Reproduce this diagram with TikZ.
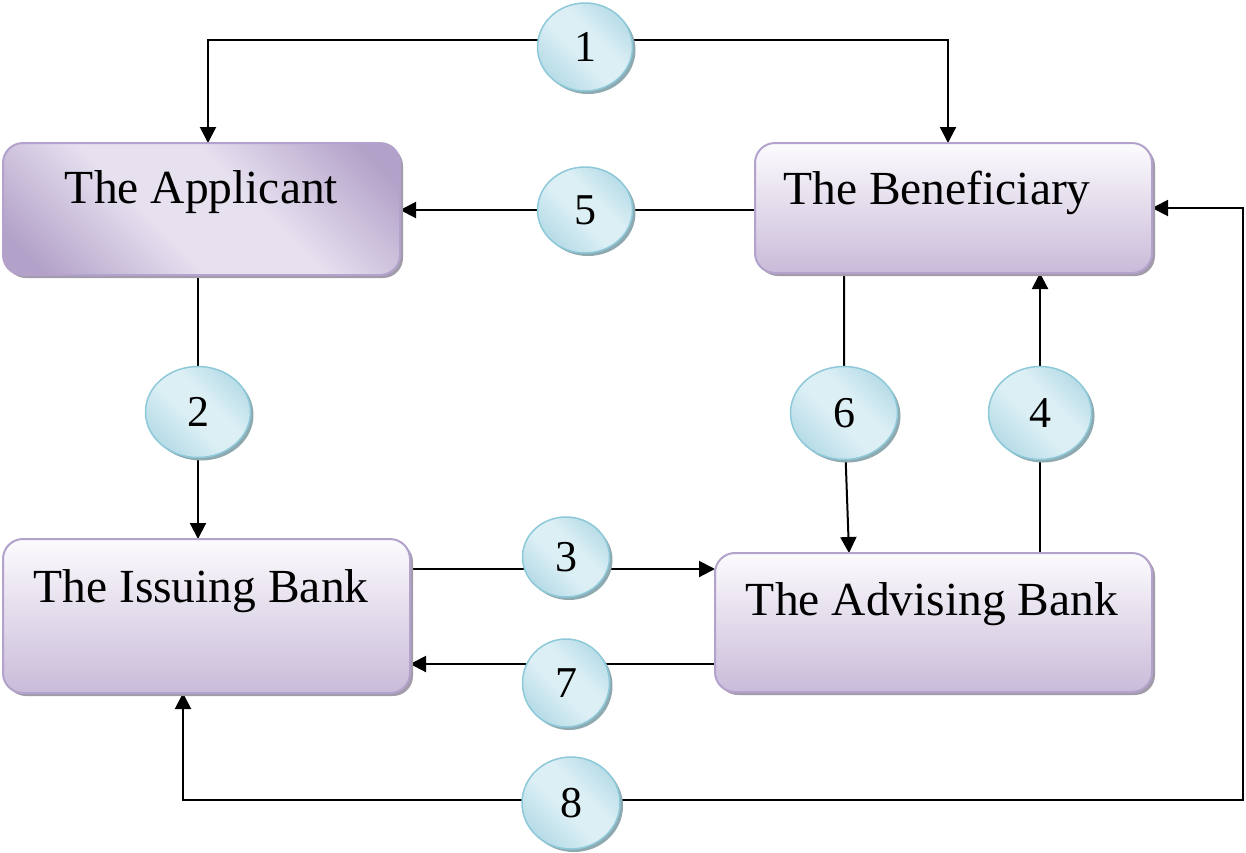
\documentclass[tikz,border=0pt]{standalone}
\usepackage{fontspec}
\setmainfont{Liberation Serif}
\usetikzlibrary{arrows.meta,shadows,backgrounds,calc,shapes.geometric}
\definecolor{boxline}{HTML}{B3A2CB}
\definecolor{boxtop}{HTML}{FCFBFD}
\definecolor{boxbot}{HTML}{C9BBD9}
\definecolor{boxshd}{HTML}{A29BAA}
\definecolor{appdk}{HTML}{B2A1C8}
\definecolor{applt}{HTML}{E6E0EF}
\definecolor{cirline}{HTML}{8DC9D9}
\definecolor{cirdk}{HTML}{A9D5E2}
\definecolor{cirlt}{HTML}{DCEFF5}
\definecolor{cirshd}{HTML}{8FA9B1}
\pgfdeclarehorizontalshading{appshade}{100bp}{color(0bp)=(appdk); color(20bp)=(appdk); color(42bp)=(applt); color(58bp)=(applt); color(80bp)=(appdk); color(100bp)=(appdk)}
\pgfdeclarehorizontalshading{cirshade}{100bp}{color(0bp)=(cirdk); color(18bp)=(cirdk); color(45bp)=(cirlt); color(58bp)=(cirlt); color(82bp)=(cirdk); color(100bp)=(cirdk)}
\begin{document}
\begin{tikzpicture}[x=1pt,y=-1pt,
  boxbase/.style={draw=boxline, line width=2pt, rounded corners=20pt, inner sep=0pt, outer sep=0pt,
    drop shadow={shadow xshift=3pt, shadow yshift=-3pt, fill=boxshd, opacity=1}},
  vbox/.style={boxbase, top color=boxtop, bottom color=boxbot},
  dbox/.style={boxbase, shading=appshade, shading angle=45},
  lbl/.style={inner sep=0pt, anchor=base, font=\fontsize{47.5}{56}\selectfont},
  num/.style={ellipse, draw=cirline, line width=1.5pt, inner sep=0pt, outer sep=0pt,
    shading=cirshade, shading angle=45, font=\fontsize{44}{50}\selectfont,
    drop shadow={shadow xshift=3pt, shadow yshift=-3pt, fill=cirshd, opacity=1}},
  ln/.style={line width=2pt, draw=black},
  arr/.style={-{Triangle[length=16pt,width=16pt]}}]
\useasboundingbox (0,0) rectangle (1246,852);
% boxes
\node[dbox, minimum width=397pt, minimum height=132pt] (app) at (201.5,209) {};
\node[vbox, minimum width=397pt, minimum height=130pt] (ben) at (953.5,208) {};
\node[vbox, minimum width=407pt, minimum height=154pt] (iss) at (206.5,616) {};
\node[vbox, minimum width=437pt, minimum height=139pt] (adv) at (933.5,622.5) {};
\node[lbl] (tapp) at (201.5,203) {The Applicant};
\node[lbl] (tben) at (937,204) {The Beneficiary};
\node[lbl] (tiss) at (201,602) {The Issuing Bank};
\node[lbl] (tadv) at (932,615) {The Advising Bank};
% numbered circles
\node[num, minimum width=95pt, minimum height=88pt] (c1) at (585,47) {1};
\node[num, minimum width=95pt, minimum height=86pt] (c5) at (585,210) {5};
\node[num, minimum width=105pt, minimum height=91pt] (c2) at (198,412) {2};
\node[num, minimum width=107pt, minimum height=93pt] (c6) at (844,413) {6};
\node[num, minimum width=103pt, minimum height=93pt] (c4) at (1040,413) {4};
\node[num, minimum width=87pt, minimum height=80pt] (c3) at (566,557) {3};
\node[num, minimum width=87pt, minimum height=88pt] (c7) at (566,683) {7};
\node[num, minimum width=98pt, minimum height=92pt] (c8) at (571,803) {8};
% helper coordinates
\coordinate (k1) at ($(c1.center)+(0,-7)$);
\coordinate (k3) at ($(c3.center)+(0,12)$);
\coordinate (k7) at ($(c7.center)+(0,-19)$);
\coordinate (k8) at ($(c8.center)+(0,-3)$);
\coordinate (rc) at (1243,800);
\begin{pgfonlayer}{background}
\draw[ln,arr] (k1) -| ([xshift=6.5pt]app.north);
\draw[ln,arr] (k1) -| ([xshift=-5.5pt]ben.north);
\draw[ln,arr] (ben.west |- c5) -- (app.east |- c5);
\draw[ln,arr] (app.south -| c2) -- (iss.north -| c2);
\draw[ln,arr] (ben.south -| c6) -- (c6.center) -- ($(c6 |- adv.north)+(5,0)$);
\draw[ln,arr] (adv.north -| c4) -- (ben.south -| c4);
\draw[ln,arr] (iss.east |- k3) -- (adv.west |- k3);
\draw[ln,arr] (adv.west |- k7) -- (iss.east |- k7);
\draw[ln,arr] (k8) -| ([xshift=-23.5pt]iss.south);
\draw[ln,arr] (k8) -- (rc) |- (ben.east);
\end{pgfonlayer}
\end{tikzpicture}
\end{document}
